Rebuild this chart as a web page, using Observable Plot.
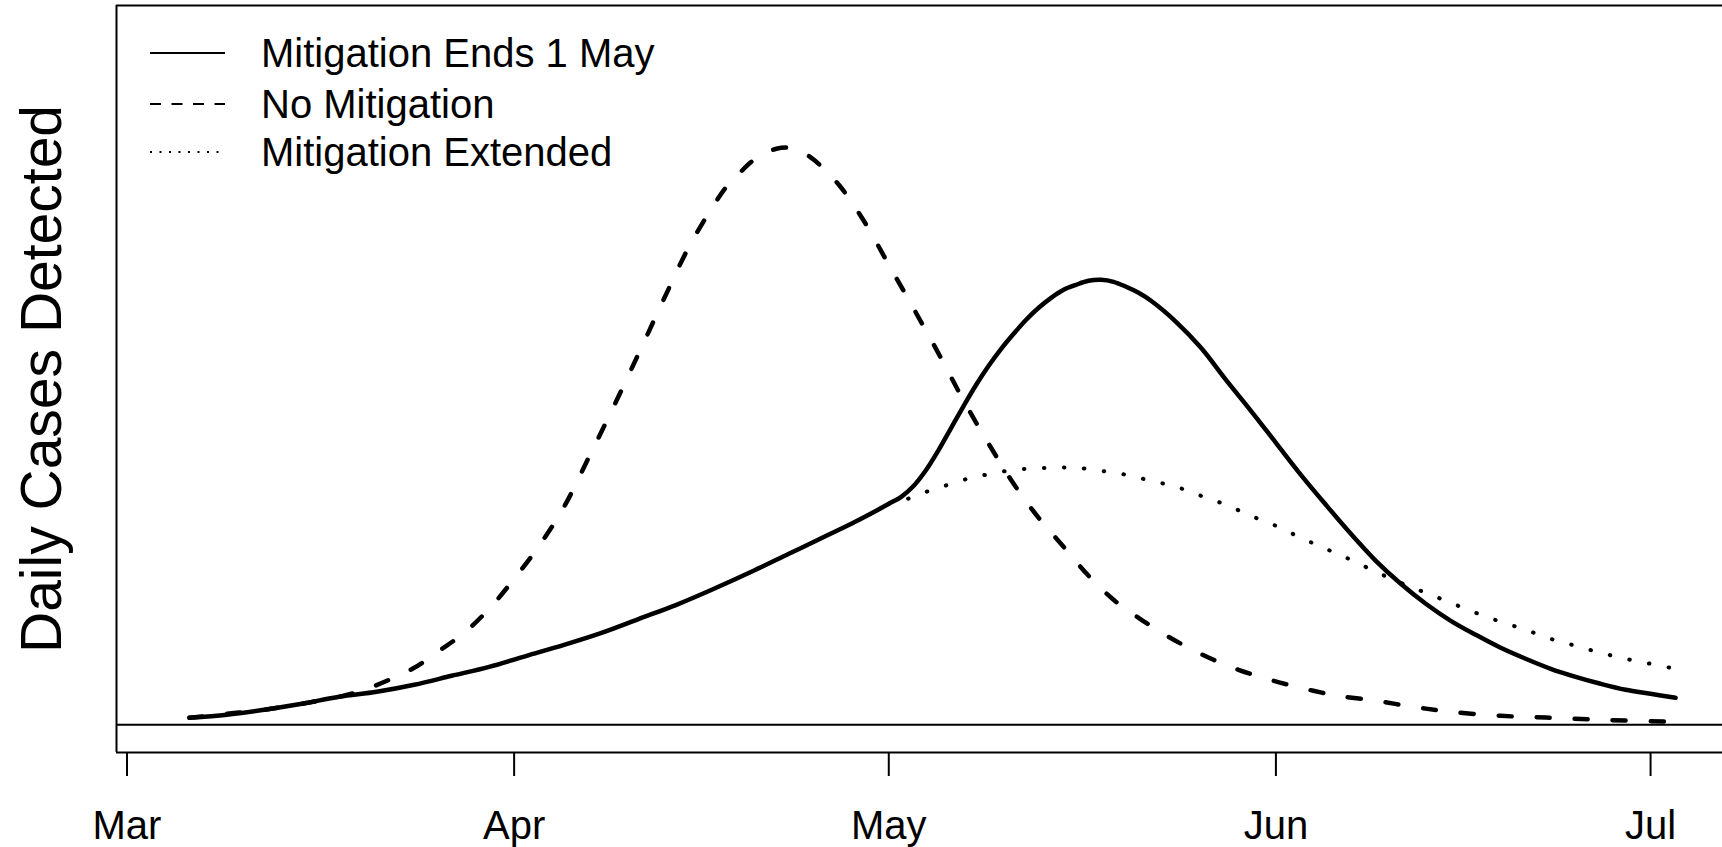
<!DOCTYPE html>
<html>
<head>
<meta charset="utf-8">
<script src="https://cdn.jsdelivr.net/npm/d3@7"></script>
<script src="https://cdn.jsdelivr.net/npm/@observablehq/plot@0.6"></script>
<style>
  html, body { margin: 0; padding: 0; background: white; }
  #chart { position: relative; width: 1722px; height: 847px; }
  #legend { position: absolute; left: 0; top: 0; pointer-events: none; }
</style>
</head>
<body>
<div id="chart"></div>
<script>
// ---- Data (days since 1 March 2020, daily cases in arbitrary units) ----
const mitigationEndsDays = [5,8,11,14,17,20,23,26,29,32,35,38,41,44,47,50,53,56,58,60,
  61,62,63,64,65,66,67,68,69,70,71,72,73,74,75,76,77,78,79,80,81,82,
  84,86,88,90,92,94,96,98,100,102,104,106,108,110,112,114,116,118,120,122,124];
const mitigationEndsValues = [7,10,15,21,28,33,40,49,58,69,80,92,106,120,136,153,171,189,201,214,
  221,228,239,255,275,297,319,340,359,376,391,405,417,427,435,440,444,445,443,438,432,424,
  403,377,345,314,282,250,220,191,164,141,121,104,90,77,66,56,48,41,35,31,27];

const noMitigationDays = [5,8,11,14,17,19,21,23,25,27,29,31,33,35,37,39,41,43,45,47,
  48,49,50,51,52,53,54,55,57,59,61,63,65,67,69,71,73,75,77,79,81,83,85,
  87,89,91,93,95,97,100,103,106,110,114,118,124];
const noMitigationValues = [7,11,15,21,28,35,45,57,74,92,116,146,179,218,268,319,372,426,478,520,
  538,551,563,571,576,577,573,565,540,504,460,416,371,324,281,241,207,178,149,125,107,91,77,
  65,55,47,40,34,29,24,18,13,9,7,5,3];

const extendedDays = [61,62,63,64,65,66,67,68,70,72,74,76,78,80,82,84,86,88,90,92,
  94,96,98,100,102,104,106,108,110,112,114,116,118,120,122,124];
const extendedValues = [221,224,228,233,237,241,245,248,253,256,257,257,254,250,244,238,229,220,209,199,
  187,176,165,153,142,132,122,112,103,95,86,79,72,66,61,56];

const tickDates = ["2020-03-01","2020-04-01","2020-05-01","2020-06-01","2020-07-01"];
const tickLabels = ["Mar","Apr","May","Jun","Jul"];

const seriesNames = ["Mitigation Ends 1 May", "No Mitigation", "Mitigation Extended"];
const yLabel = "Daily Cases Detected";

// ---- Build tables ----
const START = Date.UTC(2020, 2, 1);
const dayToDate = d => new Date(START + d * 864e5);
const toRows = (days, values) => days.map((d, i) => ({date: dayToDate(d), value: values[i]}));
const solid = toRows(mitigationEndsDays, mitigationEndsValues);
const dashed = toRows(noMitigationDays, noMitigationValues);
const dotted = toRows(extendedDays, extendedValues);
const ticks = tickDates.map(s => new Date(s + "T00:00:00Z"));
const labelOf = new Map(ticks.map((t, i) => [+t, tickLabels[i]]));

const xDomain = [dayToDate(-0.84), dayToDate(127.76)];
const yDomain = [-27.7, 719.3];
const FONT = "'Liberation Sans', Arial, Helvetica, sans-serif";

const chart = Plot.plot({
  width: 1722,
  height: 847,
  marginLeft: 116,
  marginRight: 0,
  marginTop: 5,
  marginBottom: 95,
  style: {fontFamily: FONT, fontSize: "40px", color: "black", background: "white", overflow: "visible"},
  x: {type: "utc", domain: xDomain},
  y: {domain: yDomain, axis: null},
  marks: [
    Plot.ruleY(yDomain, {stroke: "black", strokeWidth: 2}),
    Plot.ruleX([xDomain[0]], {stroke: "black", strokeWidth: 2}),
    Plot.ruleY([0], {stroke: "black", strokeWidth: 2}),
    Plot.axisX(ticks, {tickFormat: d => labelOf.get(+d), tickSize: 24, tickPadding: 34, strokeWidth: 2, fontSize: 40, fill: "black"}),
    Plot.line(dotted, {x: "date", y: "value", stroke: "black", strokeWidth: 4, strokeDasharray: "0.5,19.5", strokeLinecap: "round", curve: "catmull-rom"}),
    Plot.line(dashed, {x: "date", y: "value", stroke: "black", strokeWidth: 4.5, strokeDasharray: "13,25", strokeLinecap: "round", curve: "catmull-rom"}),
    Plot.line(solid, {x: "date", y: "value", stroke: "black", strokeWidth: 4.5, strokeLinecap: "round", curve: "catmull-rom"}),
    Plot.text([yLabel], {frameAnchor: "left", textAnchor: "middle", rotate: -90, dx: -74, fontSize: 57, fill: "black"})
  ]
});
document.getElementById("chart").appendChild(chart);

// ---- Legend (overlay inside the plot frame) ----
const legend = d3.select("#chart").append("svg")
  .attr("id", "legend").attr("width", 700).attr("height", 200)
  .style("font-family", FONT);
const styles = [
  {dash: null},
  {dash: "11,10.5"},
  {dash: "2,7.5"}
];
const rowY = [53, 104, 152];
seriesNames.forEach((name, i) => {
  const ln = legend.append("line")
    .attr("x1", 150).attr("x2", 225).attr("y1", rowY[i]).attr("y2", rowY[i])
    .attr("stroke", "black").attr("stroke-width", 2);
  if (styles[i].dash) ln.attr("stroke-dasharray", styles[i].dash);
  legend.append("text")
    .attr("x", 261).attr("y", rowY[i] + 14)
    .attr("font-size", 40).attr("fill", "black")
    .text(name);
});
</script>
</body>
</html>
